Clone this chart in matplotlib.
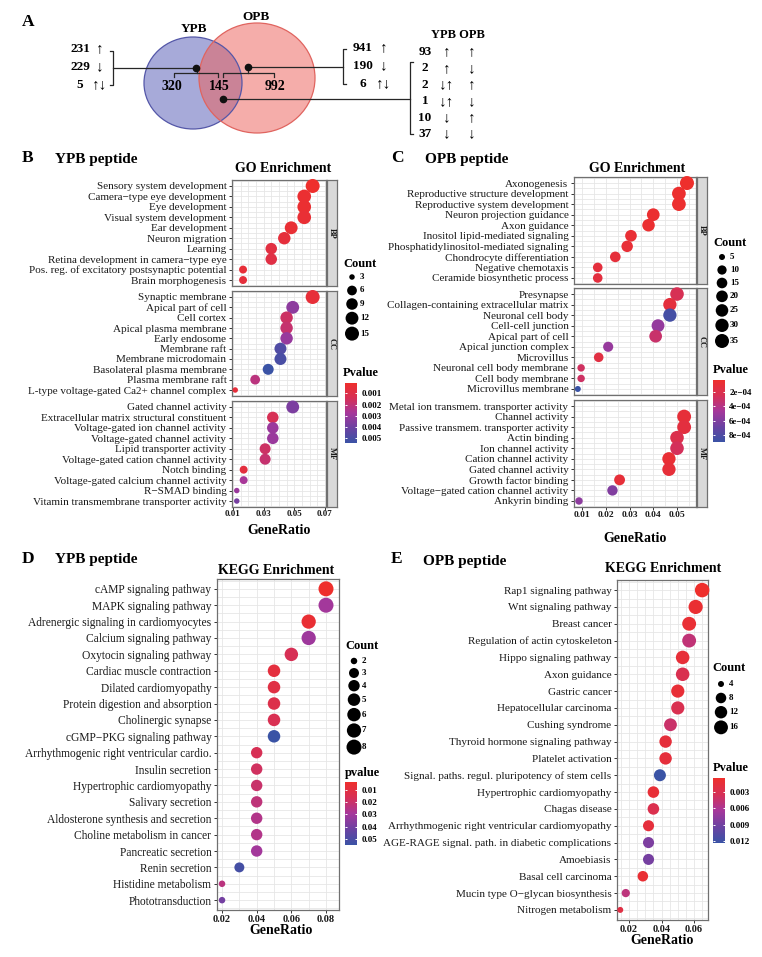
import numpy as np
import matplotlib
matplotlib.use("Agg")
import matplotlib.pyplot as plt
from matplotlib.colors import LinearSegmentedColormap, Normalize
from matplotlib.cm import ScalarMappable
from matplotlib.patches import Ellipse
from matplotlib.ticker import MultipleLocator

plt.rcParams['font.family'] = ['Liberation Serif', 'DejaVu Serif']

W, H = 762, 957

# ---------------- panel A data ----------------
venn_counts = [320, 145, 992]
left_counts = [231, 229, 5]
left_arrows = ['↑', '↓', '↑↓']
right_counts = [941, 190, 6]
right_arrows = ['↑', '↓', '↑↓']
shared_counts = [93, 2, 2, 1, 10, 37]
shared_ypb = ['↑', '↑', '↓↑', '↓↑', '↓', '↓']
shared_opb = ['↑', '↓', '↑', '↓', '↑', '↓']

# ---------------- panel B data (YPB GO) ----------------
b_bp_terms = ['Sensory system development', 'Camera−type eye development',
              'Eye development', 'Visual system development', 'Ear development',
              'Neuron migration', 'Learning', 'Retina development in camera−type eye',
              'Pos. reg. of excitatory postsynaptic potential', 'Brain morphogenesis']
b_bp_ratio = [0.062, 0.0565, 0.0565, 0.0565, 0.048, 0.0435, 0.035, 0.035, 0.0166, 0.0166]
b_bp_count = [15, 14, 14, 14, 12, 11, 9, 9, 4, 4]
b_bp_p = [0.0001, 0.0003, 0.0003, 0.0004, 0.0004, 0.0006, 0.0008, 0.0009, 0.0005, 0.0006]

b_cc_terms = ['Synaptic membrane', 'Apical part of cell', 'Cell cortex',
              'Apical plasma membrane', 'Early endosome', 'Membrane raft',
              'Membrane microdomain', 'Basolateral plasma membrane',
              'Plasma membrane raft', 'L-type voltage-gated Ca2+ channel complex']
b_cc_ratio = [0.062, 0.049, 0.045, 0.045, 0.045, 0.041, 0.041, 0.033, 0.0245, 0.0115]
b_cc_count = [15, 12, 11, 11, 11, 10, 10, 8, 6, 3]
b_cc_p = [0.0005, 0.0033, 0.0017, 0.0019, 0.0031, 0.0048, 0.0050, 0.0054, 0.0022, 0.0006]

b_mf_terms = ['Gated channel activity', 'Extracellular matrix structural constituent',
              'Voltage-gated ion channel activity', 'Voltage-gated channel activity',
              'Lipid transporter activity', 'Voltage-gated cation channel activity',
              'Notch binding', 'Voltage-gated calcium channel activity',
              'R−SMAD binding', 'Vitamin transmembrane transporter activity']
b_mf_ratio = [0.049, 0.036, 0.036, 0.036, 0.031, 0.031, 0.017, 0.017, 0.0125, 0.0125]
b_mf_count = [12, 9, 9, 9, 8, 8, 4, 4, 3, 3]
b_mf_p = [0.0037, 0.0014, 0.0030, 0.0030, 0.0017, 0.0019, 0.0007, 0.0027, 0.0030, 0.0038]

# ---------------- panel C data (OPB GO) ----------------
c_bp_terms = ['Axonogenesis', 'Reproductive structure development',
              'Reproductive system development', 'Neuron projection guidance',
              'Axon guidance', 'Inositol lipid-mediated signaling',
              'Phosphatidylinositol-mediated signaling', 'Chondrocyte differentiation',
              'Negative chemotaxis', 'Ceramide biosynthetic process']
c_bp_ratio = [0.0542, 0.0508, 0.0508, 0.040, 0.038, 0.0306, 0.029, 0.024, 0.0166, 0.0166]
c_bp_count = [35, 33, 33, 26, 25, 20, 19, 15, 11, 11]
c_bp_p = [3e-5, 5e-5, 5e-5, 6e-5, 6e-5, 8e-5, 9e-5, 1.1e-4, 1.2e-4, 1.3e-4]

c_cc_terms = ['Presynapse', 'Collagen-containing extracellular matrix',
              'Neuronal cell body', 'Cell-cell junction', 'Apical part of cell',
              'Apical junction complex', 'Microvillus', 'Neuronal cell body membrane',
              'Cell body membrane', 'Microvillus membrane']
c_cc_ratio = [0.050, 0.047, 0.047, 0.042, 0.041, 0.021, 0.017, 0.0096, 0.0096, 0.0082]
c_cc_count = [32, 30, 30, 27, 26, 13, 11, 6, 6, 5]
c_cc_p = [2.4e-4, 1.2e-4, 8.5e-4, 5.3e-4, 3.1e-4, 5.2e-4, 1.5e-4, 2.8e-4, 2.9e-4, 9.0e-4]

c_mf_terms = ['Metal ion transmem. transporter activity', 'Channel activity',
              'Passive transmem. transporter activity', 'Actin binding',
              'Ion channel activity', 'Cation channel activity', 'Gated channel activity',
              'Growth factor binding', 'Voltage−gated cation channel activity',
              'Ankyrin binding']
c_mf_ratio = [np.nan, 0.053, 0.053, 0.050, 0.050, 0.0466, 0.0466, 0.0258, 0.0228, 0.0087]
c_mf_count = [np.nan, 34, 34, 32, 32, 30, 30, 16, 14, 6]
c_mf_p = [np.nan, 1.0e-4, 1.3e-4, 2.0e-4, 2.6e-4, 8e-5, 1.0e-4, 1.0e-4, 6.0e-4, 5.6e-4]

# ---------------- panel D data (YPB KEGG) ----------------
d_terms = ['cAMP signaling pathway', 'MAPK signaling pathway',
           'Adrenergic signaling in cardiomyocytes', 'Calcium signaling pathway',
           'Oxytocin signaling pathway', 'Cardiac muscle contraction',
           'Dilated cardiomyopathy', 'Protein digestion and absorption',
           'Cholinergic synapse', 'cGMP−PKG signaling pathway',
           'Arrhythmogenic right ventricular cardio.', 'Insulin secretion',
           'Hypertrophic cardiomyopathy', 'Salivary secretion',
           'Aldosterone synthesis and secretion', 'Choline metabolism in cancer',
           'Pancreatic secretion', 'Renin secretion', 'Histidine metabolism',
           'Phototransduction']
d_ratio = [0.08, 0.08, 0.07, 0.07, 0.06, 0.05, 0.05, 0.05, 0.05, 0.05,
           0.04, 0.04, 0.04, 0.04, 0.04, 0.04, 0.04, 0.03, 0.02, 0.02]
d_count = [8, 8, 7, 7, 6, 5, 5, 5, 5, 5, 4, 4, 4, 4, 4, 4, 4, 3, 2, 2]
d_p = [0.0035, 0.030, 0.006, 0.031, 0.016, 0.009, 0.011, 0.013, 0.015, 0.055,
       0.016, 0.018, 0.020, 0.023, 0.026, 0.026, 0.030, 0.052, 0.024, 0.040]

# ---------------- panel E data (OPB KEGG) ----------------
e_terms = ['Rap1 signaling pathway', 'Wnt signaling pathway', 'Breast cancer',
           'Regulation of actin cytoskeleton', 'Hippo signaling pathway',
           'Axon guidance', 'Gastric cancer', 'Hepatocellular carcinoma',
           'Cushing syndrome', 'Thyroid hormone signaling pathway',
           'Platelet activation', 'Signal. paths. regul. pluripotency of stem cells',
           'Hypertrophic cardiomyopathy', 'Chagas disease',
           'Arrhythmogenic right ventricular cardiomyopathy',
           'AGE-RAGE signal. path. in diabetic complications', 'Amoebiasis',
           'Basal cell carcinoma', 'Mucin type O−glycan biosynthesis',
           'Nitrogen metabolism']
e_ratio = [0.065, 0.061, 0.057, 0.057, 0.053, 0.053, 0.050, 0.050, 0.0455, 0.0425,
           0.0425, 0.039, 0.035, 0.035, 0.032, 0.032, 0.032, 0.0285, 0.018, 0.0146]
e_count = [18, 17, 16, 16, 15, 15, 14, 14, 13, 12, 12, 11, 10, 10, 9, 9, 9, 8, 5, 4]
e_p = [0.0004, 0.0009, 0.0011, 0.0048, 0.0013, 0.0030, 0.0012, 0.0030, 0.0042, 0.0015,
       0.0016, 0.0124, 0.0012, 0.0028, 0.0016, 0.0085, 0.0088, 0.0010, 0.0050, 0.0022]

cmap = LinearSegmentedColormap.from_list(
    'pv', ['#ee2f2c', '#d63056', '#a6379b', '#6b42a2', '#3a53a5'])

fig = plt.figure(figsize=(W / 100, H / 100), dpi=100)
fig.patch.set_facecolor('white')


def box(l, t, r, b):
    """Pixel box (left, top, right, bottom) to figure fraction rect."""
    return [l / W, 1 - b / H, (r - l) / W, (b - t) / H]


def diam(counts, lo, hi, dmin, dmax):
    c = np.asarray(counts, dtype=float)
    return dmin + (dmax - dmin) * np.sqrt((c - lo) / (hi - lo))


def facet(rect, terms, ratio, count, pval, sz, norm, xlim, xticks, step,
          strip=None, bottom=False, fs=8, tfs=6.5, tpad=0.5):
    l, t, r, b = rect
    ax = fig.add_axes(box(l, t, r, b))
    n = len(terms)
    pos = np.arange(n)
    ratio = np.asarray(ratio, dtype=float)
    keep = ~np.isnan(ratio)
    d = diam(np.asarray(count, float)[keep], *sz)
    ax.scatter(ratio[keep], pos[keep], s=(d * 0.72) ** 2,
               c=np.asarray(pval, float)[keep], cmap=cmap, norm=norm,
               linewidths=0, zorder=3, clip_on=False)
    ax.set_xlim(xlim)
    ax.set_ylim(n - 0.4, -0.6)
    ax.set_yticks(pos)
    ax.set_yticklabels(terms, fontsize=fs, color='#1a1a1a')
    ax.set_yticks(np.arange(-0.5, n, 0.5), minor=True)
    ax.set_xticks(xticks)
    ax.xaxis.set_minor_locator(MultipleLocator(step))
    ax.grid(True, which='both', color='#e6e6e6', lw=0.6)
    ax.set_axisbelow(True)
    ax.tick_params(axis='y', which='major', length=2.5, width=0.7,
                   color='#333333', pad=1.5)
    ax.tick_params(which='minor', length=0)
    if bottom:
        ax.set_xticklabels(['%g' % v for v in xticks], fontsize=tfs,
                           fontweight='bold', color='#1a1a1a')
        ax.tick_params(axis='x', which='major', length=2, width=0.7,
                       color='#333333', pad=tpad)
    else:
        ax.tick_params(axis='x', which='major', length=0, labelbottom=False)
    for sp in ax.spines.values():
        sp.set_color('#707070')
        sp.set_linewidth(0.9)
    if strip:
        sa = fig.add_axes(box(r + 1, t, r + 11, b))
        sa.set_facecolor('#d9d9d9')
        sa.set_xticks([])
        sa.set_yticks([])
        for sp in sa.spines.values():
            sp.set_color('#707070')
            sp.set_linewidth(0.9)
        sa.text(0.5, 0.5, strip, rotation=-90, ha='center', va='center',
                fontsize=6, fontweight='bold', color='#1a1a1a',
                transform=sa.transAxes)
    return ax


def pbar(rect, norm, ticks, labels):
    cax = fig.add_axes(box(*rect))
    cb = fig.colorbar(ScalarMappable(norm=norm, cmap=cmap), cax=cax)
    cb.set_ticks(ticks)
    cb.set_ticklabels(labels)
    cb.minorticks_off()
    cb.outline.set_visible(False)
    cax.invert_yaxis()
    cax.tick_params(direction='in', length=1.6, width=0.7, color='white',
                    left=True, right=True, labelsize=6.5, pad=3)
    for lab in cax.get_yticklabels():
        lab.set_fontweight('bold')


# ---------------- B ----------------
b_all = b_bp_count + b_cc_count + b_mf_count
b_sz = (min(b_all), max(b_all), 5.5, 14)
b_norm = Normalize(min(b_bp_p + b_cc_p + b_mf_p), max(b_bp_p + b_cc_p + b_mf_p))
b_x = dict(xlim=(0.0094, 0.0707), xticks=[0.01, 0.03, 0.05, 0.07], step=0.005)
facet((232, 179.7, 326, 286.3), b_bp_terms, b_bp_ratio, b_bp_count, b_bp_p,
      b_sz, b_norm, strip='BP', **b_x)
facet((232, 290.8, 326, 396.2), b_cc_terms, b_cc_ratio, b_cc_count, b_cc_p,
      b_sz, b_norm, strip='CC', **b_x)
facet((232, 400.7, 326, 507.3), b_mf_terms, b_mf_ratio, b_mf_count, b_mf_p,
      b_sz, b_norm, strip='MF', bottom=True, tfs=6.5, tpad=0.3, **b_x)
pbar((345, 383, 357, 443), b_norm, [0.001, 0.002, 0.003, 0.004, 0.005],
     ['0.001', '0.002', '0.003', '0.004', '0.005'])

# ---------------- C ----------------
c_all = [v for v in c_bp_count + c_cc_count + c_mf_count if not np.isnan(v)]
c_pall = [v for v in c_bp_p + c_cc_p + c_mf_p if not np.isnan(v)]
c_sz = (min(c_all), max(c_all), 6, 14)
c_norm = Normalize(min(c_pall), max(c_pall))
c_x = dict(xlim=(0.0066, 0.058), xticks=[0.01, 0.02, 0.03, 0.04, 0.05], step=0.005)
facet((574, 176.7, 696, 284.3), c_bp_terms, c_bp_ratio, c_bp_count, c_bp_p,
      c_sz, c_norm, strip='BP', **c_x)
facet((574, 287.7, 696, 395.3), c_cc_terms, c_cc_ratio, c_cc_count, c_cc_p,
      c_sz, c_norm, strip='CC', **c_x)
facet((574, 399.7, 696, 507.3), c_mf_terms, c_mf_ratio, c_mf_count, c_mf_p,
      c_sz, c_norm, strip='MF', bottom=True, tfs=6.8, tpad=1.0, **c_x)
pbar((713, 380, 725, 442), c_norm, [2e-4, 4e-4, 6e-4, 8e-4],
     ['2e−04', '4e−04', '6e−04', '8e−04'])

# ---------------- D ----------------
d_sz = (min(d_count), max(d_count), 6.5, 15)
d_norm = Normalize(min(d_p), max(d_p))
facet((217, 579, 339, 910), d_terms, d_ratio, d_count, d_p, d_sz, d_norm,
      xlim=(0.0171, 0.0875), xticks=[0.02, 0.04, 0.06, 0.08], step=0.01,
      bottom=True, fs=8.3, tfs=7.5, tpad=1.5)
pbar((345, 782, 357, 845), d_norm, [0.01, 0.02, 0.03, 0.04, 0.05],
     ['0.01', '0.02', '0.03', '0.04', '0.05'])

# ---------------- E ----------------
e_sz = (min(e_count), max(e_count), 6, 14.5)
e_norm = Normalize(min(e_p), max(e_p))
facet((617, 580, 708, 920), e_terms, e_ratio, e_count, e_p, e_sz, e_norm,
      xlim=(0.0126, 0.0686), xticks=[0.02, 0.04, 0.06], step=0.005,
      bottom=True, fs=8, tfs=7.5, tpad=1.5)
pbar((713, 778, 725, 843), e_norm, [0.003, 0.006, 0.009, 0.012],
     ['0.003', '0.006', '0.009', '0.012'])

# ---------------- overlay for panel A, titles and legends ----------------
ov = fig.add_axes([0, 0, 1, 1], zorder=10)
ov.set_xlim(0, W)
ov.set_ylim(H, 0)
ov.axis('off')


def count_legend(x, y_title, y_first, breaks, sz, base):
    ov.text(x, y_title, 'Count', fontsize=9, fontweight='bold',
            ha='left', va='center')
    d = diam(breaks, *sz)
    h = np.maximum(base, d + 2)
    ys = y_first + np.concatenate([[0], np.cumsum((h[:-1] + h[1:]) / 2)])
    ov.scatter(np.full(len(breaks), x + 9), ys, s=(d * 0.72) ** 2,
               color='black', linewidths=0)
    for yy, bk in zip(ys, breaks):
        ov.text(x + 17, yy, str(bk), fontsize=6.5, fontweight='bold',
                ha='left', va='center')


count_legend(343, 264, 277, [3, 6, 9, 12, 15], b_sz, 13.5)
count_legend(713, 243, 257, [5, 10, 15, 20, 25, 30, 35], c_sz, 13)
count_legend(345, 646, 661, [2, 3, 4, 5, 6, 7, 8], d_sz, 12)
count_legend(712, 668, 684, [4, 8, 12, 16], e_sz, 14)

for txt, x, y in [('Pvalue', 343, 373), ('Pvalue', 713, 370),
                  ('pvalue', 345, 773), ('Pvalue', 713, 768)]:
    ov.text(x, y, txt, fontsize=9, fontweight='bold', ha='left', va='center')

for txt, x, y in [('A', 28, 22), ('B', 28, 158), ('C', 397, 158),
                  ('D', 28, 559), ('E', 397, 559)]:
    ov.text(x, y, txt, fontsize=12.5, fontweight='bold', ha='center', va='center')

for txt, x, y in [('YPB peptide', 55, 160), ('OPB peptide', 425, 160),
                  ('YPB peptide', 55, 560), ('OPB peptide', 423, 561)]:
    ov.text(x, y, txt, fontsize=11, fontweight='bold', ha='left', va='center')

for txt, x, y in [('GO Enrichment', 283, 169), ('GO Enrichment', 637, 168),
                  ('KEGG Enrichment', 276, 570), ('KEGG Enrichment', 663, 569)]:
    ov.text(x, y, txt, fontsize=10, fontweight='bold', ha='center', va='center')

for x, y in [(279, 530), (635, 539), (281, 931), (662, 941)]:
    ov.text(x, y, 'GeneRatio', fontsize=10, fontweight='bold',
            ha='center', va='center')

# Venn diagram
ov.add_patch(Ellipse((193, 83), 98, 92, fc='#a7aad9', ec='none'))
ov.add_patch(Ellipse((257, 78), 116, 110, fc='#ed5d57', alpha=0.5, ec='none'))
ov.add_patch(Ellipse((193, 83), 98, 92, fc='none', ec='#5457a8', lw=0.9))
ov.add_patch(Ellipse((257, 78), 116, 110, fc='none', ec='#e0645f', lw=0.9))
ov.text(194, 29, 'YPB', fontsize=9.5, fontweight='bold', ha='center', va='center')
ov.text(256, 17, 'OPB', fontsize=9.5, fontweight='bold', ha='center', va='center')
for v, x in zip(venn_counts, [172, 219, 275]):
    ov.text(x, 86, str(v), fontsize=10, fontweight='bold', ha='center', va='center')

lk = dict(color='#262626', lw=0.9)
# left group
ov.plot([110, 113, 113, 110], [51, 51, 85, 85], **lk)
ov.plot([113, 196], [68, 68], **lk)
ov.plot([174, 174, 218, 218], [77, 73, 73, 77], **lk)
ov.plot([197, 197], [68, 73], **lk)
# right group
ov.plot([346, 343, 343, 346], [49, 49, 84, 84], **lk)
ov.plot([248, 343], [67, 67], **lk)
ov.plot([223, 223, 274, 274], [77, 73, 73, 77], **lk)
ov.plot([248, 248], [67, 73], **lk)
# shared group
ov.plot([413, 410, 410, 413], [62, 62, 134, 134], **lk)
ov.plot([223, 410], [99, 99], **lk)
ov.plot([196, 248, 223], [68, 67, 99], 'o', ms=4.5, color='#111111')

af = dict(fontsize=11, fontweight='bold', ha='center', va='center')
for i, (v, a) in enumerate(zip(left_counts, left_arrows)):
    y = 49 + 18 * i
    ov.text(80, y, str(v), fontsize=9.5, fontweight='bold', ha='center', va='center')
    ov.text(100, y, a, **af)

for i, (v, a) in enumerate(zip(right_counts, right_arrows)):
    y = 48 + 18 * i
    ov.text(363, y, str(v), fontsize=9.5, fontweight='bold', ha='center', va='center')
    ov.text(384, y, a, **af)

ov.text(458, 35, 'YPB OPB', fontsize=9, fontweight='bold', ha='center', va='center')
for i, (v, a1, a2) in enumerate(zip(shared_counts, shared_ypb, shared_opb)):
    y = 52 + 16.4 * i
    ov.text(425, y, str(v), fontsize=9.5, fontweight='bold', ha='center', va='center')
    ov.text(447, y, a1, **af)
    ov.text(472, y, a2, **af)

fig.savefig('out.png', dpi=100, facecolor='white')
